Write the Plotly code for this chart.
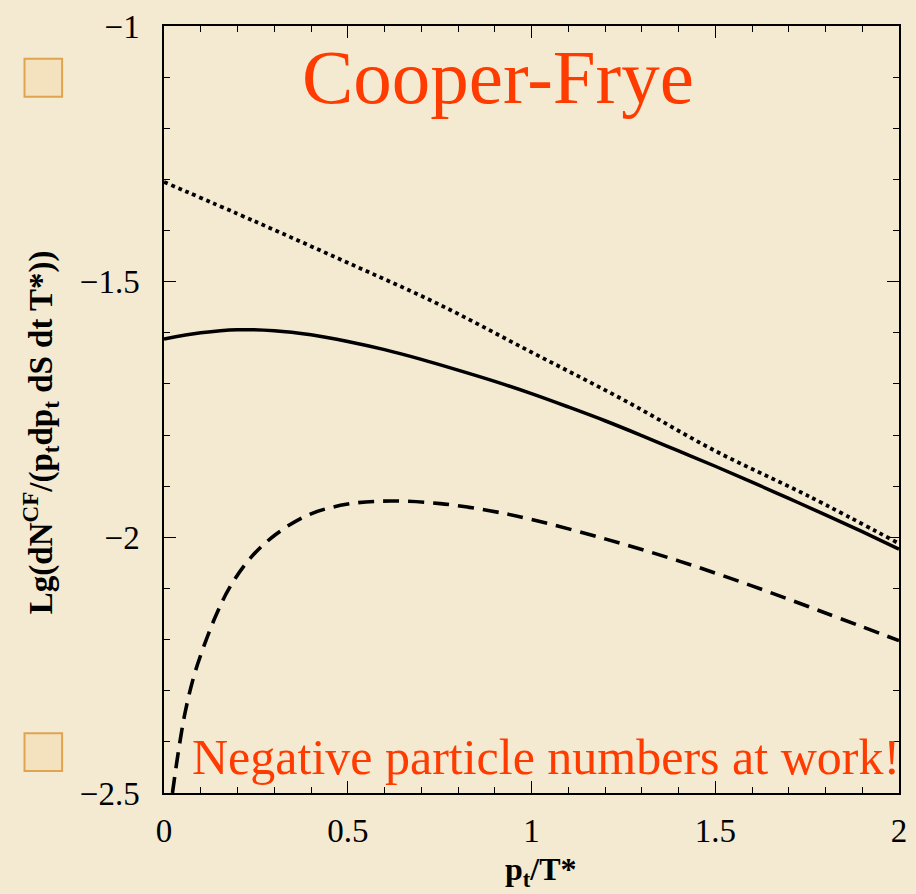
import plotly.graph_objects as go

# ---- data ----
dot_x = [0.0, 0.25, 0.5, 0.75, 1.0, 1.25, 1.5, 1.75, 2.0]
dot_y = [-1.305, -1.383, -1.463, -1.545, -1.638, -1.731, -1.831, -1.918, -2.012]

solid_x = [0.0, 0.1, 0.2, 0.3, 0.4, 0.5, 0.6, 0.7, 0.8, 0.9, 1.0, 1.1, 1.2, 1.3, 1.4, 1.5,
           1.6, 1.7, 1.8, 1.9, 2.0]
solid_y = [-1.612, -1.600, -1.594, -1.596, -1.604, -1.617, -1.633, -1.652, -1.673, -1.695,
           -1.719, -1.745, -1.772, -1.801, -1.831, -1.861, -1.892, -1.924, -1.956, -1.989, -2.023]

dash_x = [0.023, 0.04, 0.057, 0.08, 0.101, 0.14, 0.178, 0.232, 0.303, 0.393, 0.5, 0.617,
          0.752, 0.886, 1.0, 1.2, 1.4, 1.6, 1.8, 2.0]
dash_y = [-2.5, -2.415, -2.344, -2.275, -2.228, -2.155, -2.099, -2.043, -1.995, -1.956,
          -1.935, -1.929, -1.934, -1.948, -1.965, -2.003, -2.046, -2.095, -2.148, -2.202]

x_tickvals = [0, 0.5, 1, 1.5, 2]
x_ticktext = ["0", "0.5", "1", "1.5", "2"]
y_tickvals = [-2.5, -2, -1.5, -1]
y_ticktext = ["\u22122.5", "\u22122", "\u22121.5", "\u22121"]

title_text = "Cooper-Frye"
note_text = "Negative particle numbers at work!"
x_title = "<b>p<sub>t</sub>/T*</b>"
y_title = "<b>Lg(dN<sup>CF</sup>/(p<sub>t</sub>dp<sub>t</sub> dS dt T*))</b>"

BG = "#F3EAD1"
RED = "#FF3B00"
SERIF = "Liberation Serif"

fig = go.Figure()
fig.add_trace(go.Scatter(x=dot_x, y=dot_y, mode="lines", line=dict(color="black", width=3.8, dash="dot"),
                         line_shape="spline", showlegend=False))
fig.add_trace(go.Scatter(x=solid_x, y=solid_y, mode="lines", line=dict(color="black", width=3.5),
                         line_shape="spline", showlegend=False))
fig.add_trace(go.Scatter(x=dash_x, y=dash_y, mode="lines", line=dict(color="black", width=3.6, dash="16px,9px"),
                         line_shape="spline", showlegend=False))

axis_common = dict(showline=True, linecolor="black", linewidth=1.5, mirror="ticks",
                   ticks="inside", ticklen=12, tickwidth=1.2, tickcolor="black",
                   showgrid=False, zeroline=False,
                   tickfont=dict(family=SERIF, size=33, color="black"))

fig.update_xaxes(range=[0, 2], tickvals=x_tickvals, ticktext=x_ticktext,
                 minor=dict(dtick=0.1, ticks="inside", ticklen=6, tickwidth=1.2, tickcolor="black"),
                 ticklabelstandoff=8, **axis_common)
fig.update_yaxes(range=[-2.5, -1], tickvals=y_tickvals, ticktext=y_ticktext,
                 minor=dict(dtick=0.1, ticks="inside", ticklen=6, tickwidth=1.2, tickcolor="black"),
                 ticklabelstandoff=16, **axis_common)

L, R, T, B = 164, 9, 22, 101
W, H = 916, 894
pw, ph = W - L - R, H - T - B

def px(xp):
    return (xp - L) / pw

def py(yp):
    return 1 - (yp - T) / ph

fig.update_layout(
    width=W, height=H,
    margin=dict(l=L, r=R, t=T, b=B),
    paper_bgcolor=BG, plot_bgcolor="rgba(0,0,0,0)",
    font=dict(family=SERIF),
    shapes=[
        dict(type="rect", xref="paper", yref="paper", x0=px(23), x1=px(61), y0=py(93), y1=py(55),
             line=dict(color="#E0A450", width=2), fillcolor="#F4E2BF", layer="below"),
        dict(type="rect", xref="paper", yref="paper", x0=px(23), x1=px(61), y0=py(771), y1=py(733),
             line=dict(color="#E0A450", width=2), fillcolor="#F4E2BF", layer="below"),
    ],
    annotations=[
        dict(text=title_text, xref="paper", yref="paper", x=px(502), y=py(73),
             xanchor="center", yanchor="middle", showarrow=False,
             font=dict(family=SERIF, size=77, color=RED)),
        dict(text=note_text, xref="paper", yref="paper", x=px(550), y=py(757),
             xanchor="center", yanchor="middle", showarrow=False,
             font=dict(family=SERIF, size=50, color=RED)),
        dict(text=y_title, xref="paper", yref="paper", x=px(40), y=py(430),
             xanchor="center", yanchor="middle", textangle=-90, showarrow=False,
             font=dict(family=SERIF, size=33, color="black")),
        dict(text=x_title, xref="paper", yref="paper", x=px(545), y=py(872),
             xanchor="center", yanchor="middle", showarrow=False,
             font=dict(family=SERIF, size=32, color="black")),
    ],
)

fig.write_html("out.html")
